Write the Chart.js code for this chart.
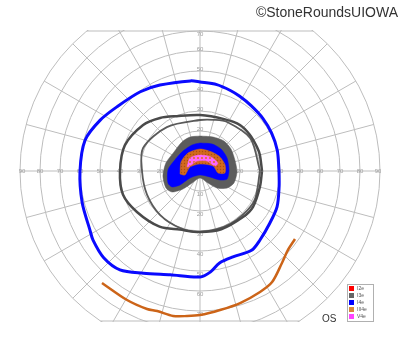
<!DOCTYPE html>
<html><head><meta charset="utf-8">
<script src="https://cdn.jsdelivr.net/npm/chart.js@4.4.1/dist/chart.umd.min.js"></script>
<style>
html,body{margin:0;padding:0;background:#fff;}
#wrap{position:relative;width:400px;height:352px;overflow:hidden;}
#c{position:absolute;left:0;top:0;}
#mark{position:absolute;right:2px;top:4px;font:14px "Liberation Sans",Arial,sans-serif;color:#333;white-space:nowrap;}
</style></head><body>
<div id="wrap"><canvas id="c" width="400" height="352"></canvas><div id="mark">©StoneRoundsUIOWA</div></div>
<script>
// ---- grid / tick data (degrees of eccentricity) ----
const ringDegrees = [10, 20, 30, 40, 50, 60, 70, 80, 90];
const meridianAngles = [0, 15, 30, 45, 60, 75, 90, 105, 120, 135, 150, 165, 180, 195, 210, 225, 240, 255, 270, 285, 300, 315, 330, 345];
const horizontalTickLabels = ['10', '20', '30', '40', '50', '60', '70', '80', '90'];
const verticalTickLabels = ['10', '20', '30', '40', '50', '60', '70'];
const fieldTop = 70;      // superior limit of the chart (deg)
const fieldBottom = -75;  // inferior limit of the chart (deg)

// ---- legend ----
const legendLabels = ['I2e', 'I3e', 'I4e', 'III4e', 'V4e'];
const legendColors = ['#ff0000', '#666666', '#0000ff', '#d9873a', '#ff44ff'];

// ---- isopters: meridian angle (deg, 0 = right, counter-clockwise) and eccentricity (deg) ----
const i4eAngles = [0, 15, 28, 40, 52, 62, 69, 79, 90, 96, 115, 127, 142, 153, 165, 180, 195, 208, 213, 222, 231, 241, 254, 270, 276, 282, 291, 303, 311, 323, 335, 349, 360];
const i4eRadii  = [39.5, 40, 40.5, 41, 41.5, 42.3, 43, 44, 44.5, 45.3, 47.4, 49.6, 52.4, 56, 59.5, 60, 61, 62.4, 63.7, 64.8, 63.6, 58.4, 54, 53, 50.7, 47, 46, 47.3, 45.7, 43.6, 42.5, 40.3, 39.5];

const iii4eAngles = [228.8, 240.5, 249, 253, 259.5, 264.9, 270, 278.2, 286.9, 296.4, 303, 311.7, 318, 324.4];
const iii4eRadii  = [74.4, 74.1, 73.9, 73.2, 73.7, 72.8, 72, 70.2, 69, 67.5, 66.2, 61.6, 59.1, 58.4];

const i3eOuterAngles = [0, 15, 23, 36, 49, 65, 90, 113, 127, 141, 161, 180, 197, 213, 234, 251, 270, 290, 313, 326, 345, 360];
const i3eOuterRadii  = [31, 31, 30.9, 30.8, 30.5, 28.6, 28, 29.8, 33.2, 36.6, 39.7, 40, 40.3, 37.6, 34.4, 31, 30.5, 31, 31.5, 32, 31, 31];

const i3eInnerAngles = [0, 33, 61, 75, 90, 127, 158, 180, 204, 228, 251, 270, 300, 330, 360];
const i3eInnerRadii  = [30, 30, 28, 26.5, 25.5, 27.5, 30.7, 29, 29, 29.7, 30.2, 30.5, 30.5, 31, 30];

// ---- central scotoma layers (closed outlines) ----
const scotI3eAngles = [90, 69, 51.3, 35.4, 17.4, 358.5, 340.6, 327.8, 315, 303.7, 270, 236.3, 226.6, 216.9, 206.6, 187.7, 166.8, 143.8, 121.8, 106.4, 90];
const scotI3eRadii  = [17.5, 18.2, 19.2, 19, 18.3, 18.5, 18, 16, 12, 7.2, 3.5, 7.2, 12.4, 17.5, 19, 18.7, 17.5, 16.1, 17.1, 17.7, 17.5];

const scotI4eAngles = [90, 66, 46.3, 25.7, 2, 343.5, 335.8, 329, 270, 215, 215, 209.7, 200.6, 178, 156, 130.4, 107, 90];
const scotI4eRadii  = [14, 14.8, 15.2, 15, 14.5, 14.1, 11, 5.8, 2, 6.1, 12.2, 16.1, 17.1, 16, 13.7, 13.1, 13.6, 14];

const scotIII4eAngles = [188.5, 154.6, 123.7, 90, 57.7, 35, 13.5, 355.4, 353.7, 21, 90, 158, 195, 188.5];
const scotIII4eRadii  = [10.1, 10.5, 10.8, 11, 11.2, 12.2, 12.9, 12.5, 9.1, 7, 3.5, 5.4, 7.8, 10.1];

const scotV4eAngles = [163, 127.6, 90, 51.8, 24, 18.4, 55, 106.7, 153.4, 163];
const scotV4eRadii  = [6.8, 8.2, 8, 8.9, 9.8, 7.9, 6.1, 5.2, 5.6, 6.8];

// ---- helpers ----
function polarPoints(angles, radii) {
  return angles.map((a, i) => {
    const t = a * Math.PI / 180;
    return { x: radii[i] * Math.cos(t), y: radii[i] * Math.sin(t) };
  });
}
function dotPattern(bg, dot, spacing, r) {
  const c = document.createElement('canvas');
  c.width = spacing; c.height = spacing;
  const g = c.getContext('2d');
  g.fillStyle = bg; g.fillRect(0, 0, spacing, spacing);
  g.fillStyle = dot; g.beginPath(); g.arc(spacing / 2, spacing / 2, r, 0, Math.PI * 2); g.fill();
  return g.createPattern(c, 'repeat');
}

function lineSet(label, angles, radii, color, width, order, tension) {
  return {
    label, data: polarPoints(angles, radii), showLine: true, borderColor: color,
    borderWidth: width, pointRadius: 0, fill: false, tension: tension, order: order
  };
}
function areaSet(label, angles, radii, edge, fillStyle, order) {
  return {
    label, data: polarPoints(angles, radii), showLine: true, borderColor: edge,
    backgroundColor: fillStyle, borderWidth: 0.5, pointRadius: 0, fill: 'shape', tension: 0.25, order: order
  };
}

const gridPlugin = {
  id: 'goldmannGrid',
  beforeDatasetsDraw(chart) {
    const { ctx, chartArea, scales: { x, y } } = chart;
    const cx = x.getPixelForValue(0), cy = y.getPixelForValue(0);
    const pxPerDeg = x.getPixelForValue(1) - cx;
    const outer = ringDegrees[ringDegrees.length - 1];
    ctx.save();
    ctx.beginPath();
    ctx.rect(chartArea.left - 1, chartArea.top - 1, chartArea.right - chartArea.left + 2, chartArea.bottom - chartArea.top + 2);
    ctx.clip();
    ctx.strokeStyle = '#bdbdbd';
    ctx.lineWidth = 1;
    ringDegrees.forEach(r => {
      ctx.beginPath();
      ctx.arc(cx, cy, r * pxPerDeg, 0, Math.PI * 2);
      ctx.stroke();
    });
    meridianAngles.forEach(a => {
      const t = a * Math.PI / 180;
      ctx.beginPath();
      ctx.moveTo(cx, cy);
      ctx.lineTo(x.getPixelForValue(outer * Math.cos(t)), y.getPixelForValue(outer * Math.sin(t)));
      ctx.stroke();
    });
    [fieldTop, fieldBottom].forEach(v => {
      const half = Math.sqrt(outer * outer - v * v);
      const py = y.getPixelForValue(v);
      ctx.beginPath();
      ctx.moveTo(x.getPixelForValue(-half), py);
      ctx.lineTo(x.getPixelForValue(half), py);
      ctx.stroke();
    });
    ctx.fillStyle = '#a0a0a0';
    ctx.font = '6px "Liberation Sans", Arial, sans-serif';
    ctx.textAlign = 'center';
    ctx.textBaseline = 'middle';
    horizontalTickLabels.forEach(l => {
      const v = Number(l);
      ctx.fillText(l, x.getPixelForValue(-v) + (v === 90 ? 2 : 0), cy);
      ctx.fillText(l, x.getPixelForValue(v) - (v === 90 ? 2 : 0), cy);
    });
    verticalTickLabels.forEach(l => {
      const v = Number(l);
      ctx.fillText(l, cx, y.getPixelForValue(v) + (v === fieldTop ? 3 : -2));
      ctx.fillText(l, cx, y.getPixelForValue(-v) + 3);
    });
    ctx.restore();
  }
};

const legendPlugin = {
  id: 'boxLegend',
  afterDraw(chart) {
    const { ctx } = chart;
    const left = 347, top = 284, w = 26, rowH = 7;
    ctx.save();
    ctx.fillStyle = '#ffffff';
    ctx.fillRect(left, top, w, rowH * legendLabels.length + 2);
    ctx.strokeStyle = '#b0b0b0';
    ctx.lineWidth = 1;
    ctx.strokeRect(left + 0.5, top + 0.5, w, rowH * legendLabels.length + 2);
    ctx.font = '5px "Liberation Sans", Arial, sans-serif';
    ctx.textBaseline = 'middle';
    ctx.textAlign = 'left';
    legendLabels.forEach((lab, i) => {
      const yy = top + 2 + i * rowH;
      ctx.fillStyle = legendColors[i];
      ctx.fillRect(left + 2, yy, 5, 5);
      ctx.fillStyle = '#555';
      ctx.fillText(lab, left + 10, yy + 2.5);
    });
    ctx.fillStyle = '#333';
    ctx.font = '10px "Liberation Sans", Arial, sans-serif';
    ctx.textBaseline = 'alphabetic';
    ctx.fillText('OS', 322, 322);
    ctx.restore();
  }
};

const orangeFill = dotPattern('#d2691e', '#a84c12', 3, 0.7);
const pinkFill = dotPattern('#ff66ff', '#e0742c', 4, 1.1);

new Chart(document.getElementById('c'), {
  type: 'scatter',
  data: {
    datasets: [
      lineSet('I4e', i4eAngles, i4eRadii, '#0a0aff', 3, 1, 0.3),
      lineSet('III4e', iii4eAngles, iii4eRadii, '#cc6418', 2.5, 1, 0.3),
      lineSet('I3e', i3eOuterAngles, i3eOuterRadii, '#4a4a4a', 2.5, 2, 0.3),
      lineSet('I3e inner', i3eInnerAngles, i3eInnerRadii, '#5a5a5a', 1.8, 2, 0.3),
      areaSet('I3e scotoma', scotI3eAngles, scotI3eRadii, '#5c5c5c', '#5c5c5c', 9),
      areaSet('I4e scotoma', scotI4eAngles, scotI4eRadii, '#0000ff', '#0000ff', 8),
      areaSet('III4e scotoma', scotIII4eAngles, scotIII4eRadii, '#cc6a1c', orangeFill, 7),
      areaSet('V4e scotoma', scotV4eAngles, scotV4eRadii, '#ff66ff', pinkFill, 6)
    ]
  },
  options: {
    responsive: false,
    animation: false,
    devicePixelRatio: 1,
    layout: { padding: { left: 20, right: 20, top: 31, bottom: 31 } },
    scales: {
      x: { type: 'linear', min: -90, max: 90, display: false },
      y: { type: 'linear', min: fieldBottom, max: fieldTop, display: false }
    },
    plugins: { legend: { display: false }, tooltip: { enabled: false } }
  },
  plugins: [gridPlugin, legendPlugin]
});
</script>
</body></html>
